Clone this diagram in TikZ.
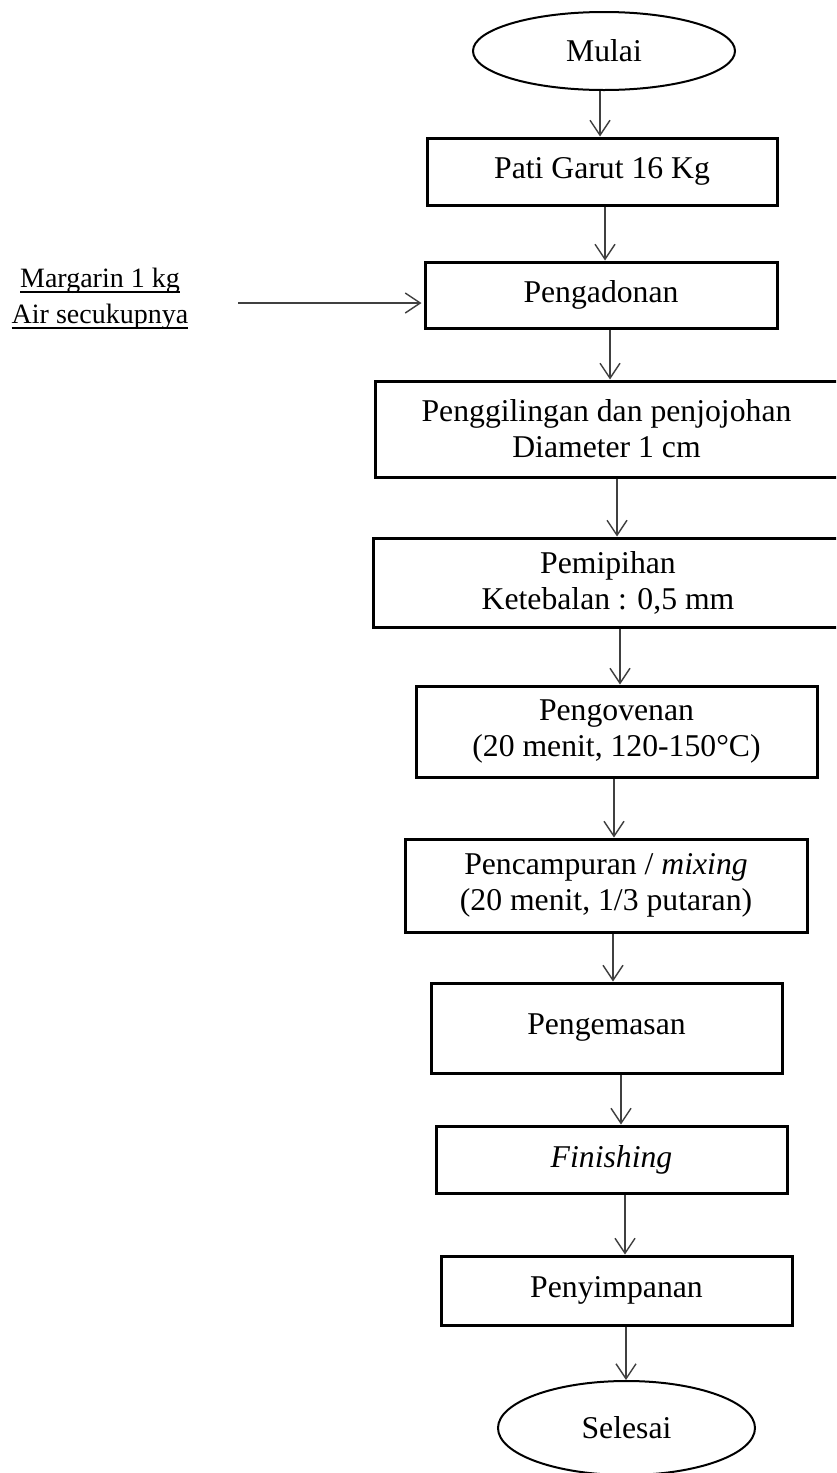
\documentclass[tikz,border=0pt]{standalone}
\usepackage{fontspec}
\setmainfont{Liberation Serif}
\usetikzlibrary{shapes.geometric,arrows.meta}
\newcommand{\ulx}[1]{\leavevmode\setbox0\hbox{#1}\rlap{\vrule width\wd0 height -3pt depth 5pt}\box0}
\begin{document}
\begin{tikzpicture}[x=1pt,y=-1pt,
  procbox/.style={draw=black, line width=3pt, rectangle, inner sep=0pt, align=center,
    font=\fontsize{31.7}{36}\selectfont},
  termnode/.style={draw=black, line width=2pt, ellipse, inner sep=0pt,
    font=\fontsize{31.7}{36}\selectfont},
  arr/.style={draw=black!75, line width=1.4pt, -{Straight Barb[length=15pt,width=20pt]}},
  sidetext/.style={inner sep=0pt, align=center, font=\fontsize{28}{36}\selectfont}]
\useasboundingbox (0,0) rectangle (836,1473);
\clip (0,0) rectangle (836,1473);
\fill[white] (0,0) rectangle (836,1473);

\node[termnode, minimum width=262pt, minimum height=78pt] (mulai) at (604,51) {Mulai};
\node[procbox, minimum width=350pt, minimum height=67pt] (pati) at (602,171.5) {Pati Garut 16 Kg};
\node[procbox, minimum width=352pt, minimum height=66pt] (adonan) at (601,295) {Pengadonan};
\node[procbox, minimum width=463pt, minimum height=96pt] (giling) at (606.5,429) {Penggilingan dan penjojohan\\Diameter 1 cm};
\node[procbox, minimum width=470pt, minimum height=89pt] (pipih) at (608,582.5) {Pemipihan\\Ketebalan : 0,5 mm};
\node[procbox, minimum width=401pt, minimum height=91pt] (oven) at (616.5,731.5) {Pengovenan\\(20 menit, 120-150°C)};
\node[procbox, minimum width=402pt, minimum height=93pt] (campur) at (606,885.5) {Pencampuran / \textit{mixing}\\(20 menit, 1/3 putaran)};
\node[procbox, minimum width=351pt, minimum height=90pt] (kemas) at (606.5,1028) {Pengemasan};
\node[procbox, minimum width=351pt, minimum height=67pt] (finish) at (611.5,1159.5) {\textit{Finishing}};
\node[procbox, minimum width=351pt, minimum height=69pt] (simpan) at (616.5,1290.5) {Penyimpanan};
\node[termnode, minimum width=257pt, minimum height=94pt] (selesai) at (626.5,1428) {Selesai};

\node[sidetext] (bahan) at (100,299) {\ulx{Margarin 1 kg}\\\ulx{Air secukupnya}};

\draw[arr] ([xshift=-4pt]mulai.south) -- ([xshift=-2pt]pati.north);
\draw[arr] ([xshift=3pt]pati.south) -- ([xshift=4pt]adonan.north);
\draw[arr] ([xshift=9pt]adonan.south) -- ([xshift=3.5pt]giling.north);
\draw[arr] ([xshift=10.5pt]giling.south) -- ([xshift=9pt]pipih.north);
\draw[arr] ([xshift=12pt]pipih.south) -- ([xshift=3.5pt]oven.north);
\draw[arr] ([xshift=-2.5pt]oven.south) -- ([xshift=8pt]campur.north);
\draw[arr] ([xshift=7pt]campur.south) -- ([xshift=6.5pt]kemas.north);
\draw[arr] ([xshift=14.5pt]kemas.south) -- ([xshift=9.5pt]finish.north);
\draw[arr] ([xshift=13.5pt]finish.south) -- ([xshift=8.5pt]simpan.north);
\draw[arr] ([xshift=9.5pt]simpan.south) -- ([xshift=-0.5pt]selesai.north);
\draw[arr] ([xshift=50pt,yshift=-4pt]bahan.east) -- ([xshift=-2pt,yshift=-8pt]adonan.west);
\end{tikzpicture}
\end{document}
